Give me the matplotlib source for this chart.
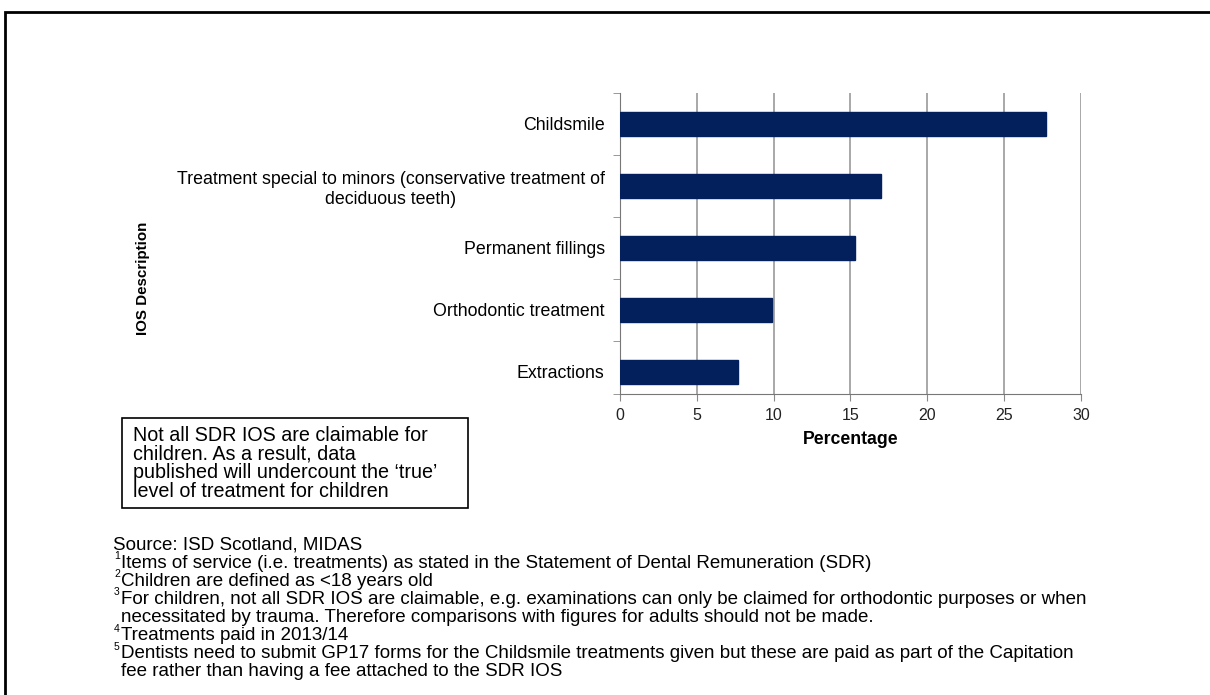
import matplotlib
matplotlib.use("Agg")
import matplotlib.pyplot as plt
from matplotlib.patches import Rectangle

categories = ["Childsmile",
              "Treatment special to minors (conservative treatment of\ndeciduous teeth)",
              "Permanent fillings",
              "Orthodontic treatment",
              "Extractions"]
values = [27.7, 17.0, 15.3, 9.9, 7.7]
xticks = [0, 5, 10, 15, 20, 25, 30]

footnotes = [
    ("", "Source: ISD Scotland, MIDAS"),
    ("1", "Items of service (i.e. treatments) as stated in the Statement of Dental Remuneration (SDR)"),
    ("2", "Children are defined as <18 years old"),
    ("3", "For children, not all SDR IOS are claimable, e.g. examinations can only be claimed for orthodontic purposes or when"),
    ("", "necessitated by trauma. Therefore comparisons with figures for adults should not be made."),
    ("4", "Treatments paid in 2013/14"),
    ("5", "Dentists need to submit GP17 forms for the Childsmile treatments given but these are paid as part of the Capitation"),
    ("", "fee rather than having a fee attached to the SDR IOS"),
]
box_text = ("Not all SDR IOS are claimable for\nchildren. As a result, data\n"
            "published will undercount the \u2018true\u2019\nlevel of treatment for children")

plt.rcParams['font.family'] = ['Liberation Sans', 'DejaVu Sans']

W, H = 1210, 695
fig = plt.figure(figsize=(W / 100, H / 100), dpi=100)

# outer frame
fig.patches.append(Rectangle((5 / W, -0.01), (W - 5) / W + 0.01, 1.01 - 12 / H,
                             transform=fig.transFigure, fill=False,
                             edgecolor='black', linewidth=2))

ax = fig.add_axes([620 / W, 1 - 394 / H, (1081 - 620) / W, (394 - 93) / H])
n = len(categories)
ypos = list(range(n))
ax.barh(ypos, values, height=0.4, color='#03205C', edgecolor='#03205C', zorder=3)
ybottom = -0.5 + 301 / 62
ax.set_ylim(ybottom, -0.5)
ax.set_xlim(0, 30)
ax.set_xticks(xticks)
ax.set_xticklabels([str(t) for t in xticks], fontsize=11.5, color='#222222')
ax.set_yticks(ypos)
ax.set_yticklabels(categories, fontsize=12.8, ha='right', multialignment='center')
ax.tick_params(axis='y', length=0, pad=11)
# category boundary ticks
ax.set_yticks([i - 0.5 for i in range(0, n)] + [ybottom], minor=True)
ax.tick_params(axis='y', which='minor', length=5, color='#888888')
ax.tick_params(axis='x', length=5, color='#888888', pad=5)
ax.grid(axis='x', color='#999999', linewidth=1.2, zorder=0)
for s in ['top', 'right']:
    ax.spines[s].set_visible(False)
ax.spines['left'].set_color('#777777')
ax.spines['bottom'].set_color('#777777')
ax.set_xlabel("Percentage", fontsize=12.7, fontweight='bold', labelpad=6)

# y label
fig.text(143 / W, 1 - 278 / H, "IOS Description", rotation=90, ha='center',
         va='center', fontsize=10.9, fontweight='bold')

# text box
fig.patches.append(Rectangle((122 / W, 1 - 508 / H), (468 - 122) / W, (508 - 418) / H,
                             transform=fig.transFigure, fill=False,
                             edgecolor='black', linewidth=1.2))
fig.text(133 / W, 1 - 426 / H, box_text, ha='left', va='top', fontsize=14.2,
         linespacing=0.98)

# footnotes
y0 = 545
step = 18.1
for i, (sup, txt) in enumerate(footnotes):
    y = y0 + i * step
    if sup:
        fig.text(114 / W, 1 - (y - 7) / H, sup, ha='left', va='center',
                 fontsize=7.5)
    fig.text(113 / W if i == 0 else 121 / W, 1 - y / H, txt,
             ha='left', va='center', fontsize=13.5)

fig.savefig("out.png", dpi=100)
